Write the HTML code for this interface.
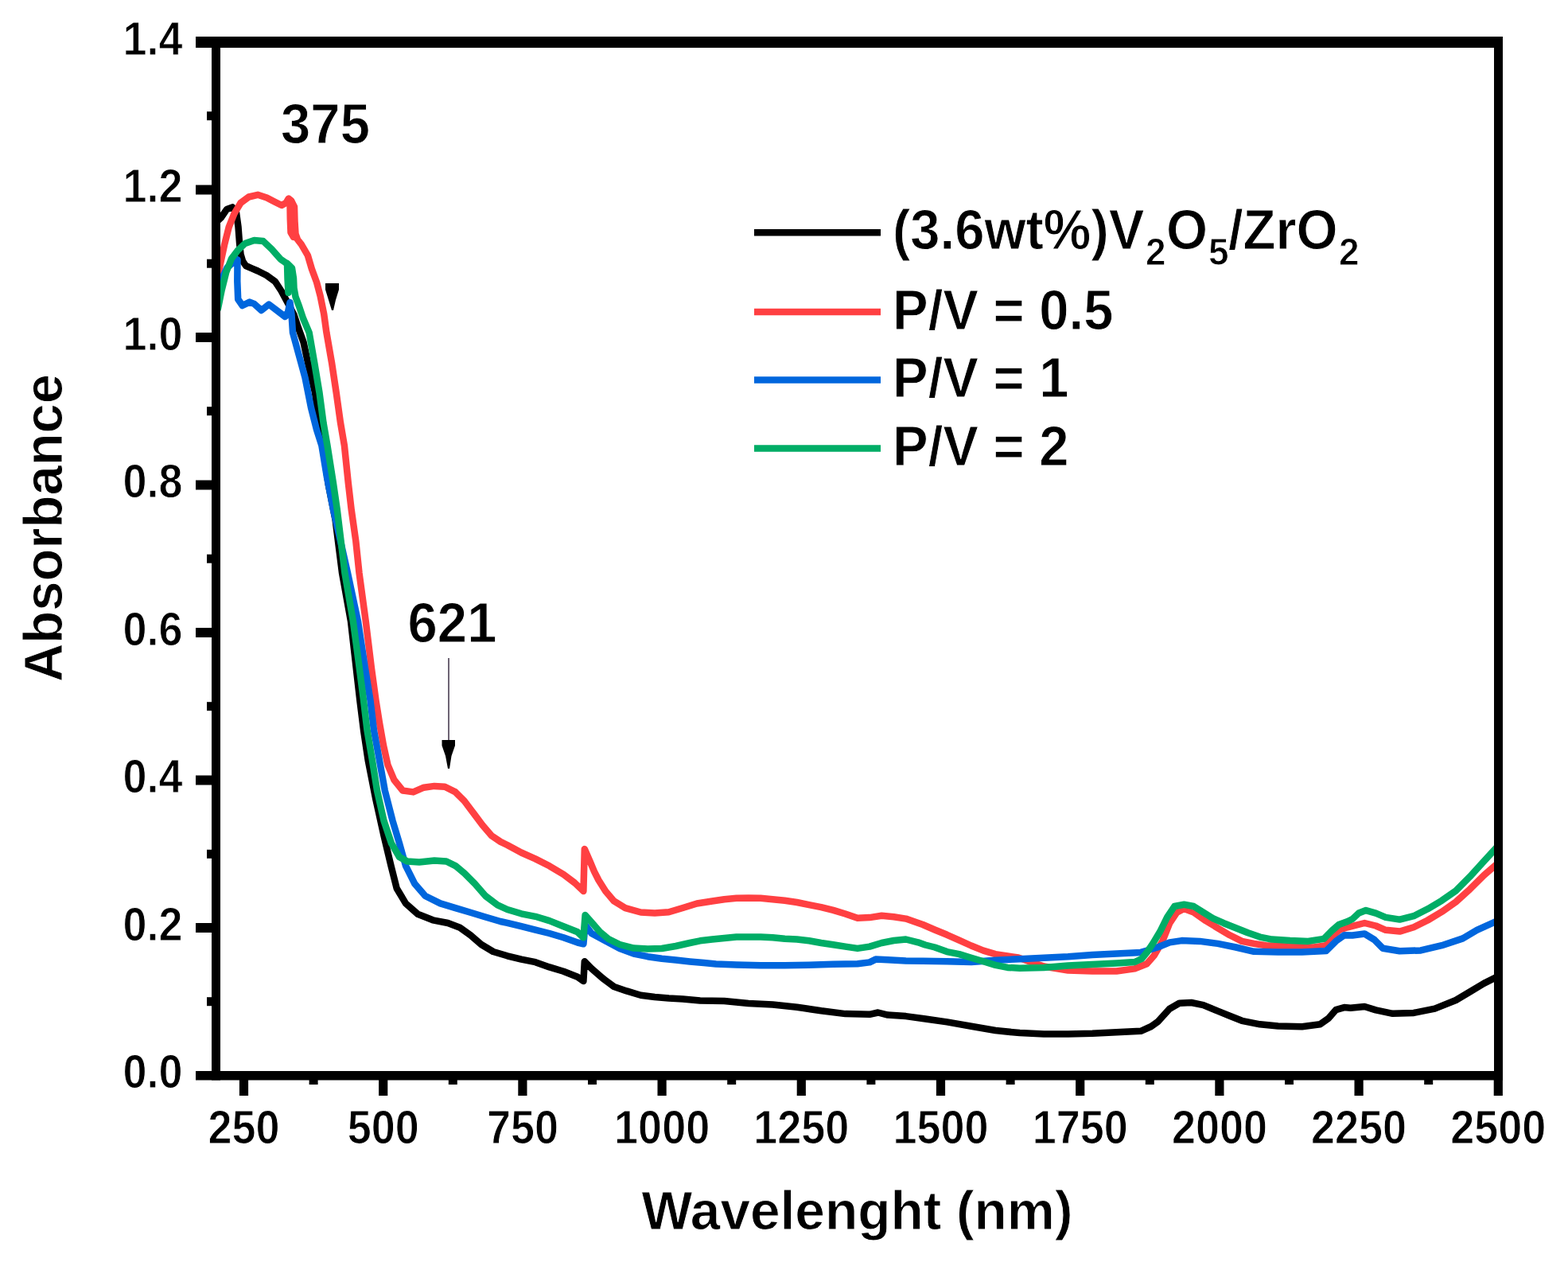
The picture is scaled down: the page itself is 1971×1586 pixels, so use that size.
<!DOCTYPE html>
<html><head><meta charset="utf-8"><title>Absorbance spectra</title>
<style>
html,body{margin:0;padding:0;background:#fff;}
body{width:1971px;height:1586px;overflow:hidden;}
svg{display:block;}
text{font-family:'Liberation Sans',Arial,Helvetica,sans-serif;font-weight:bold;fill:#000;stroke:#fff;stroke-width:0.9px;}
</style></head><body>
<svg width="1971" height="1586" viewBox="0 0 1971 1586">
<rect x="0" y="0" width="1971" height="1586" fill="#ffffff"/>
<defs><clipPath id="plot"><rect x="272" y="55" width="1611" height="1296"/></clipPath></defs>
<g clip-path="url(#plot)" fill="none" stroke-width="8.5" stroke-linejoin="round" stroke-linecap="round">
<polyline stroke="#000000" points="271.0,280.0 277.5,274.0 285.2,262.9 292.2,260.4 297.0,267.0 299.5,285.0 301.0,305.0 302.5,319.5 305.0,328.0 309.0,334.0 316.7,337.3 324.0,340.5 335.0,346.0 345.7,353.7 353.5,365.5 360.5,378.5 369.5,395.5 375.0,412.0 381.5,430.0 387.0,455.7 396.0,493.5 401.0,531.3 407.0,570.0 413.0,610.0 421.5,652.8 430.0,720.0 441.0,781.0 452.3,880.0 457.0,917.8 462.7,955.7 472.0,1003.0 482.5,1050.3 491.5,1088.1 498.7,1116.5 510.0,1135.4 525.1,1148.7 544.1,1156.3 563.0,1160.0 578.1,1165.7 591.4,1175.2 605.0,1187.0 620.0,1196.0 637.7,1201.3 655.3,1205.7 673.0,1209.2 690.6,1215.4 708.3,1220.7 726.0,1227.8 733.4,1233.0 734.8,1208.3 743.6,1217.2 757.7,1229.5 771.8,1240.0 787.7,1245.4 805.4,1250.7 823.0,1253.0 840.7,1254.5 858.3,1255.5 880.0,1257.5 910.4,1258.1 940.9,1261.1 971.3,1262.6 1001.8,1265.7 1032.2,1270.3 1062.6,1274.1 1093.1,1274.8 1103.7,1272.5 1116.0,1275.6 1138.7,1277.1 1161.6,1280.2 1190.4,1284.4 1220.9,1289.7 1251.3,1295.0 1281.8,1298.1 1312.2,1299.6 1342.6,1299.6 1373.1,1298.8 1403.5,1297.3 1434.0,1295.8 1447.0,1290.0 1455.1,1284.3 1470.3,1267.7 1482.4,1260.8 1497.5,1260.0 1512.6,1263.1 1530.8,1270.7 1545.9,1276.7 1561.1,1282.8 1583.8,1287.3 1606.5,1289.6 1636.7,1290.3 1659.4,1287.3 1670.0,1279.8 1679.1,1269.2 1689.7,1266.1 1697.6,1266.8 1715.3,1265.0 1729.4,1269.4 1750.6,1273.8 1777.1,1272.9 1803.5,1267.6 1830.0,1257.0 1847.6,1246.5 1865.3,1235.9 1885.0,1226.0"/>
<polyline stroke="#ff4042" points="271.0,350.0 275.2,340.0 282.0,308.0 287.7,285.4 294.5,268.4 302.5,255.0 312.7,247.5 324.0,244.8 335.4,248.5 345.0,253.5 354.0,258.0 359.5,255.0 362.8,249.5 366.0,252.0 370.0,260.0 370.5,278.0 371.5,294.0 374.0,301.0 378.8,307.2 386.8,320.8 391.8,337.8 398.1,354.9 402.6,371.9 407.2,394.6 410.4,417.8 417.0,455.7 422.7,493.5 428.0,531.3 432.9,560.0 437.8,607.0 441.7,640.7 447.3,680.0 451.5,720.0 459.8,781.0 467.0,840.0 472.5,880.0 477.0,908.4 482.0,936.8 487.5,961.4 495.5,980.3 506.2,993.5 519.5,995.4 532.7,989.7 546.0,987.9 559.2,988.8 572.5,995.4 583.8,1006.8 595.2,1021.9 606.5,1037.0 617.9,1050.3 629.2,1057.9 637.7,1062.0 655.3,1071.5 673.0,1079.4 690.6,1088.3 708.3,1098.9 722.4,1109.5 733.4,1120.0 734.8,1067.0 741.8,1083.0 747.0,1095.3 752.4,1106.0 761.2,1120.0 771.8,1132.4 786.0,1141.2 805.4,1146.5 823.0,1147.4 840.7,1146.3 858.3,1141.0 876.0,1135.5 895.2,1132.5 910.4,1130.2 925.7,1128.7 940.9,1128.4 956.1,1128.7 971.3,1130.2 986.5,1131.8 1001.8,1134.0 1017.0,1137.1 1032.2,1140.1 1047.4,1143.9 1062.6,1148.5 1077.9,1153.8 1093.1,1153.1 1108.3,1150.8 1123.5,1152.3 1138.7,1154.6 1150.0,1158.5 1160.0,1162.0 1175.0,1168.5 1190.4,1174.8 1205.7,1181.6 1220.9,1188.5 1236.1,1194.6 1251.3,1199.1 1266.5,1201.4 1280.0,1203.5 1312.2,1214.5 1342.6,1219.5 1373.1,1220.5 1403.5,1220.5 1426.4,1217.4 1441.6,1211.3 1450.6,1201.0 1461.2,1182.9 1470.3,1160.2 1479.3,1146.6 1488.4,1142.0 1500.5,1146.6 1515.7,1157.2 1530.8,1166.3 1545.9,1175.3 1561.1,1182.9 1576.2,1185.9 1591.3,1188.2 1621.6,1189.7 1651.9,1190.5 1667.0,1188.2 1676.0,1176.0 1684.0,1168.5 1694.1,1165.3 1715.3,1160.0 1729.4,1163.5 1741.8,1168.8 1759.4,1170.6 1777.1,1165.3 1794.7,1156.5 1812.3,1145.9 1830.0,1133.5 1847.6,1117.6 1865.3,1100.0 1885.0,1083.0"/>
<polyline stroke="#ff4042" points="364.5,256 364.8,275 365.5,292 369,298"/>
<polyline stroke="#0066dd" points="271.0,370.0 273.0,366.0 279.0,350.0 285.4,336.5 294.5,328.5 298.5,326.3 298.3,353.5 299.2,376.0 304.7,384.0 313.8,379.6 319.5,381.9 328.6,390.0 338.0,382.5 349.3,391.2 358.4,398.0 362.0,392.0 364.5,380.0 366.5,395.0 368.0,418.0 374.0,440.0 379.0,458.0 383.5,474.6 391.0,512.4 398.0,540.0 404.4,560.0 411.0,600.0 419.0,640.7 428.0,680.0 437.0,720.0 450.0,781.0 459.0,840.0 465.5,880.0 470.0,917.8 477.0,955.7 483.8,993.5 493.5,1031.4 502.0,1059.8 510.0,1088.1 521.4,1110.8 534.6,1126.0 553.5,1135.4 572.5,1141.1 591.4,1146.8 610.3,1152.5 629.0,1158.0 637.7,1159.8 655.3,1164.2 673.0,1168.6 690.6,1173.0 708.3,1178.3 726.0,1184.5 733.4,1186.3 735.6,1162.4 743.6,1173.0 761.2,1182.5 779.0,1192.0 796.6,1198.6 814.2,1202.2 831.9,1204.8 849.5,1206.6 867.2,1208.4 884.8,1210.1 900.0,1211.5 925.7,1212.4 956.1,1213.2 986.5,1213.2 1017.0,1212.7 1047.4,1211.7 1077.9,1211.2 1093.1,1209.4 1100.7,1205.6 1116.0,1206.3 1138.7,1207.5 1160.0,1207.7 1190.4,1208.3 1220.9,1209.0 1251.3,1206.8 1281.8,1205.2 1312.2,1203.7 1342.6,1202.2 1373.1,1199.9 1403.5,1198.4 1434.0,1196.9 1442.0,1194.5 1455.1,1190.5 1470.3,1184.4 1485.4,1182.1 1508.1,1182.9 1530.8,1185.9 1553.5,1190.5 1576.2,1195.8 1606.5,1196.5 1636.7,1196.5 1667.0,1195.0 1679.1,1182.9 1689.7,1175.3 1700.0,1175.5 1715.3,1173.5 1727.6,1181.0 1738.2,1191.8 1759.4,1195.3 1785.9,1194.4 1812.3,1188.2 1838.8,1179.4 1856.5,1168.8 1885.0,1156.0"/>
<polyline stroke="#00ad66" points="271.0,395.0 274.0,387.6 278.6,364.9 284.3,342.0 291.0,325.0 299.0,314.5 308.0,306.0 319.5,302.0 330.8,303.0 341.4,313.0 352.7,325.8 362.5,332.5 367.0,337.0 369.0,350.0 369.5,362.0 371.5,373.0 376.0,385.0 381.0,400.0 388.6,417.8 395.2,455.7 401.5,493.5 406.5,531.3 411.5,560.0 418.9,607.0 423.8,640.7 428.6,680.0 433.4,720.0 443.9,781.0 450.5,830.0 457.0,880.0 461.5,917.8 468.0,955.7 474.0,993.5 482.5,1031.4 492.0,1059.8 502.0,1077.0 511.9,1082.5 527.0,1083.4 546.0,1081.5 561.1,1082.5 572.5,1088.1 583.8,1097.6 597.0,1110.8 610.3,1126.0 625.4,1137.3 637.7,1143.0 655.3,1148.3 673.0,1151.8 690.6,1157.1 708.3,1164.2 726.0,1171.3 733.4,1178.3 735.6,1150.0 743.6,1159.0 754.2,1171.3 764.8,1180.0 779.0,1187.0 796.6,1191.6 814.2,1192.4 831.9,1192.0 849.5,1189.0 867.2,1185.0 880.0,1182.3 895.2,1180.5 910.4,1178.9 925.7,1177.4 940.9,1177.4 956.1,1177.4 971.3,1178.2 986.5,1179.7 1001.8,1180.5 1017.0,1182.3 1032.2,1185.0 1047.4,1187.3 1062.6,1189.6 1077.9,1191.9 1093.1,1189.6 1108.3,1185.0 1123.5,1182.0 1138.7,1180.5 1154.0,1184.3 1163.0,1187.5 1175.0,1190.5 1190.4,1196.1 1205.7,1199.1 1220.9,1203.7 1236.1,1208.3 1251.3,1212.8 1266.5,1215.9 1281.8,1216.7 1312.2,1215.9 1342.6,1213.6 1373.1,1212.1 1403.5,1210.6 1426.4,1209.0 1435.0,1205.0 1441.6,1197.0 1449.1,1185.9 1458.2,1170.8 1467.2,1152.6 1476.3,1139.0 1488.4,1136.7 1500.5,1139.0 1512.6,1146.6 1524.7,1154.2 1538.4,1160.2 1553.5,1166.3 1568.6,1172.3 1583.8,1177.6 1598.9,1180.6 1621.6,1182.1 1644.3,1182.9 1664.0,1179.9 1674.6,1169.3 1683.0,1162.0 1694.0,1158.0 1700.0,1155.0 1708.0,1147.5 1717.0,1144.1 1729.4,1147.6 1741.8,1152.9 1759.4,1155.6 1777.1,1151.2 1794.7,1142.3 1812.3,1131.8 1830.0,1119.4 1847.6,1101.8 1865.3,1082.4 1885.0,1061.0"/>
<polyline stroke="#00ad66" points="361,331 361.5,350 362.5,368"/>
</g>
<g fill="#000">
<rect x="246" y="46" width="1643" height="14"/>
<rect x="246" y="1346" width="1643" height="11.5"/>
<rect x="266" y="46" width="11" height="1311.5"/>
<rect x="1878" y="46" width="11" height="1311.5"/>
<rect x="260" y="1253.2" width="7" height="11"/>
<rect x="246" y="1160.0" width="21" height="12"/>
<rect x="260" y="1067.8" width="7" height="11"/>
<rect x="246" y="974.5" width="21" height="12"/>
<rect x="260" y="882.2" width="7" height="11"/>
<rect x="246" y="789.0" width="21" height="12"/>
<rect x="260" y="696.7" width="7" height="11"/>
<rect x="246" y="603.5" width="21" height="12"/>
<rect x="260" y="511.2" width="7" height="11"/>
<rect x="246" y="418.0" width="21" height="12"/>
<rect x="260" y="325.7" width="7" height="11"/>
<rect x="246" y="232.5" width="21" height="12"/>
<rect x="260" y="140.2" width="7" height="11"/>
<rect x="300.9" y="1356" width="11.2" height="21"/>
<rect x="388.6" y="1356" width="11" height="7"/>
<rect x="476.1" y="1356" width="11.2" height="21"/>
<rect x="563.8" y="1356" width="11" height="7"/>
<rect x="651.3" y="1356" width="11.2" height="21"/>
<rect x="739.0" y="1356" width="11" height="7"/>
<rect x="826.5" y="1356" width="11.2" height="21"/>
<rect x="914.2" y="1356" width="11" height="7"/>
<rect x="1001.7" y="1356" width="11.2" height="21"/>
<rect x="1089.4" y="1356" width="11" height="7"/>
<rect x="1176.9" y="1356" width="11.2" height="21"/>
<rect x="1264.6" y="1356" width="11" height="7"/>
<rect x="1352.1" y="1356" width="11.2" height="21"/>
<rect x="1439.8" y="1356" width="11" height="7"/>
<rect x="1527.3" y="1356" width="11.2" height="21"/>
<rect x="1615.0" y="1356" width="11" height="7"/>
<rect x="1702.5" y="1356" width="11.2" height="21"/>
<rect x="1790.2" y="1356" width="11" height="7"/>
<rect x="1877.7" y="1356" width="11.2" height="21"/>
</g>
<text font-size="54.5" text-anchor="end" transform="translate(229.50,1367.00) scale(0.99,1.085)">0.0</text>
<text font-size="54.5" text-anchor="end" transform="translate(229.50,1181.50) scale(0.99,1.085)">0.2</text>
<text font-size="54.5" text-anchor="end" transform="translate(229.50,996.00) scale(0.99,1.085)">0.4</text>
<text font-size="54.5" text-anchor="end" transform="translate(229.50,810.50) scale(0.99,1.085)">0.6</text>
<text font-size="54.5" text-anchor="end" transform="translate(229.50,625.00) scale(0.99,1.085)">0.8</text>
<text font-size="54.5" text-anchor="end" transform="translate(229.50,439.50) scale(0.99,1.085)">1.0</text>
<text font-size="54.5" text-anchor="end" transform="translate(229.50,254.00) scale(0.99,1.085)">1.2</text>
<text font-size="54.5" text-anchor="end" transform="translate(229.50,68.50) scale(0.99,1.085)">1.4</text>
<text font-size="54.5" text-anchor="middle" transform="translate(306.54,1437.30) scale(0.99,1.085)">250</text>
<text font-size="54.5" text-anchor="middle" transform="translate(481.73,1437.30) scale(0.99,1.085)">500</text>
<text font-size="54.5" text-anchor="middle" transform="translate(656.93,1437.30) scale(0.99,1.085)">750</text>
<text font-size="54.5" text-anchor="middle" transform="translate(832.13,1437.30) scale(0.99,1.085)">1000</text>
<text font-size="54.5" text-anchor="middle" transform="translate(1007.32,1437.30) scale(0.99,1.085)">1250</text>
<text font-size="54.5" text-anchor="middle" transform="translate(1182.52,1437.30) scale(0.99,1.085)">1500</text>
<text font-size="54.5" text-anchor="middle" transform="translate(1357.71,1437.30) scale(0.99,1.085)">1750</text>
<text font-size="54.5" text-anchor="middle" transform="translate(1532.91,1437.30) scale(0.99,1.085)">2000</text>
<text font-size="54.5" text-anchor="middle" transform="translate(1708.10,1437.30) scale(0.99,1.085)">2250</text>
<text font-size="54.5" text-anchor="middle" transform="translate(1883.30,1437.30) scale(0.99,1.085)">2500</text>
<text font-size="67" text-anchor="middle" transform="translate(1077.50,1545.00) scale(1.009,1.03)">Wavelenght (nm)</text>
<text font-size="67" text-anchor="middle" transform="translate(77.5,663.5) rotate(-90) scale(1,1.03)">Absorbance</text>
<text font-size="67" text-anchor="middle" transform="translate(409.00,180.00) scale(1.0,1.054)">375</text>
<text font-size="67" text-anchor="middle" transform="translate(568.50,806.50) scale(1.0,1.04)">621</text>
<polygon fill="#000" points="409,356 426,356 426,364 422,377 419,390 417,390 413,377 409,364"/>
<line x1="564" y1="827" x2="564" y2="932" stroke="#6e6474" stroke-width="2"/>
<polygon fill="#000" points="555.5,930 572,930 572,937 567.5,950 565,966 563,966 560,950 555.5,937"/>
<line x1="948" y1="292.3" x2="1107" y2="292.3" stroke="#000000" stroke-width="8.5"/>
<line x1="948" y1="392.0" x2="1107" y2="392.0" stroke="#ff4042" stroke-width="8.5"/>
<line x1="948" y1="477.6" x2="1107" y2="477.6" stroke="#0066dd" stroke-width="8.5"/>
<line x1="948" y1="563.4" x2="1107" y2="563.4" stroke="#00ad66" stroke-width="8.5"/>
<text font-size="67" transform="translate(1122,313.2) scale(1,1.045)">(3.6wt%)V<tspan x="318" dy="18.95" font-size="46">2</tspan><tspan x="344" dy="-18.95">O</tspan><tspan x="397" dy="18.95" font-size="46">5</tspan><tspan x="422" dy="-18.95">/ZrO</tspan><tspan x="561" dy="18.95" font-size="46">2</tspan></text>
<text font-size="67" text-anchor="start" transform="translate(1122.00,414.00) scale(1.0,1.045)">P/V = 0.5</text>
<text font-size="67" text-anchor="start" transform="translate(1122.00,499.00) scale(1.0,1.045)">P/V = 1</text>
<text font-size="67" text-anchor="start" transform="translate(1122.00,584.60) scale(1.0,1.045)">P/V = 2</text>
</svg>
</body></html>
